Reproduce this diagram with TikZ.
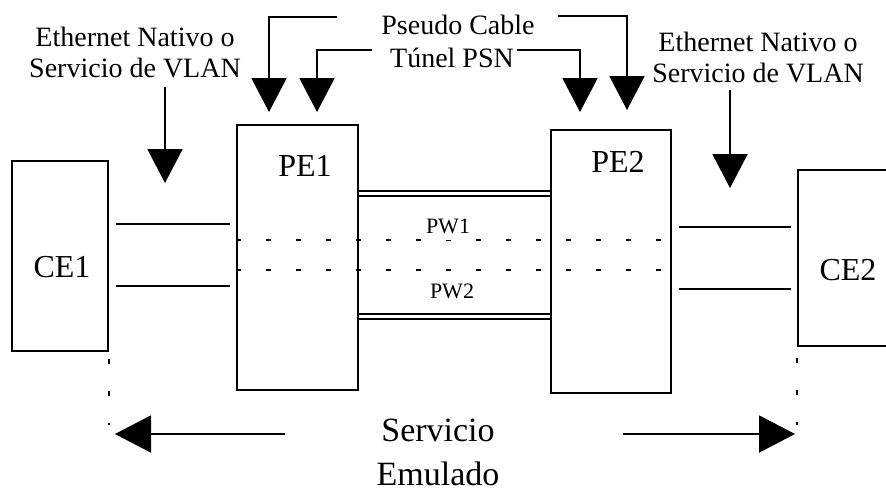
\documentclass[tikz,border=0pt]{standalone}
\usepackage{fontspec}
\setmainfont{Liberation Serif}
\usetikzlibrary{arrows.meta}

\begin{document}
\begin{tikzpicture}[x=1pt,y=-1pt,
    box/.style={draw, line width=2pt, inner sep=0pt},
    big/.style={font=\fontsize{32}{36}\selectfont},
    txt/.style={font=\fontsize{28}{31}\selectfont, align=center, inner sep=1pt},
    small/.style={font=\fontsize{22}{24}\selectfont, inner sep=1pt},
    link/.style={line width=2pt},
    arr/.style={line width=2pt, -{Triangle[length=34pt,width=35pt]}},
    harr/.style={line width=2pt, -{Triangle[length=36pt,width=37pt]}},
    dline/.style={line width=2pt, dash pattern=on 5pt off 25pt},
    tunnel/.style={line width=2pt, double, double distance=3pt},
    guide/.style={line width=2pt, dash pattern=on 5pt off 27pt}
]
\useasboundingbox (0,0) rectangle (886,493);
\clip (0,0) rectangle (886,493);
% equipos
\node[box, minimum width=96pt, minimum height=190pt] (ce1) at (60,256) {};
\node[box, minimum width=121pt, minimum height=265pt] (pe1) at (297.5,257.5) {};
\node[box, minimum width=120pt, minimum height=263pt] (pe2) at (611,261.5) {};
\node[box, minimum width=96pt, minimum height=176pt] (ce2) at (846,258) {};
\node[big] (ce1t) at (62,267) {CE1};
\node[big] (pe1t) at (305,166) {PE1};
\node[big] (pe2t) at (618,162) {PE2};
\node[big] (ce2t) at (848,270) {CE2};
% enlaces de acceso
\draw[link, shorten <=7pt, shorten >=6pt] (ce1.east |- 0,224) -- (pe1.west |- 0,224);
\draw[link, shorten <=7pt, shorten >=6pt] (ce1.east |- 0,286) -- (pe1.west |- 0,286);
\draw[link, shorten <=7pt, shorten >=6pt] (pe2.east |- 0,227) -- (ce2.west |- 0,227);
\draw[link, shorten <=7pt, shorten >=6pt] (pe2.east |- 0,289) -- (ce2.west |- 0,289);
% tunel y pseudocables
\draw[tunnel] (pe1.east |- 0,193.5) -- (pe2.west |- 0,193.5);
\draw[tunnel] (pe1.east |- 0,316.5) -- (pe2.west |- 0,316.5);
\draw[dline] (pe1.west |- 0,240) -- (pe2.east |- 0,240);
\draw[dline] (pe1.west |- 0,270) -- (pe2.east |- 0,270);
\node[small, fill=white, text depth=5pt] (pw1) at (448,229) {PW1};
\node[small] (pw2) at (452,291) {PW2};
% rotulos de arriba
\node[txt] (eth1) at (135,52) {Ethernet Nativo o\\Servicio de VLAN};
\node[txt] (eth2) at (758,57) {Ethernet Nativo o\\Servicio de VLAN};
\node[txt] (pc) at (458,25) {Pseudo Cable};
\node[txt] (tun) at (452,58) {Túnel PSN};
\coordinate (ea) at (165,183);
\coordinate (eb) at (730,188);
\coordinate (pca) at (269,112);
\coordinate (tna) at (317,112);
\coordinate (tnb) at (580,112);
\coordinate (pcb) at (627,110);
\draw[arr, shorten <=8pt] (eth1.south -| ea) -- (ea);
\draw[arr, shorten <=6pt] (eth2.south -| eb) -- (eb);
\draw[arr] ([xshift=-43pt,yshift=8pt]pc.west) -| (pca);
\draw[arr] ([xshift=-17pt,yshift=8pt]tun.west) -| (tna);
\draw[arr] ([xshift=2pt,yshift=8pt]tun.east) -| (tnb);
\draw[arr] ([xshift=22pt,yshift=9pt]pc.east) -| (pcb);
% servicio emulado
\node[font=\fontsize{34}{44}\selectfont, align=center] (serv) at (438,452) {Servicio\\Emulado};
\coordinate (sl) at (115,434);
\coordinate (sr) at (795,434);
\draw[guide, shorten <=7pt] (ce1.south east) -- (ce1.south east |- 0,425);
\draw[guide, shorten <=11pt] (ce2.south west) -- (ce2.south west |- 0,425);
\draw[harr, shorten <=88pt] (serv.west |- sl) -- (sl);
\draw[harr, shorten <=120pt] (serv.east |- sr) -- (sr);
\end{tikzpicture}
\end{document}
